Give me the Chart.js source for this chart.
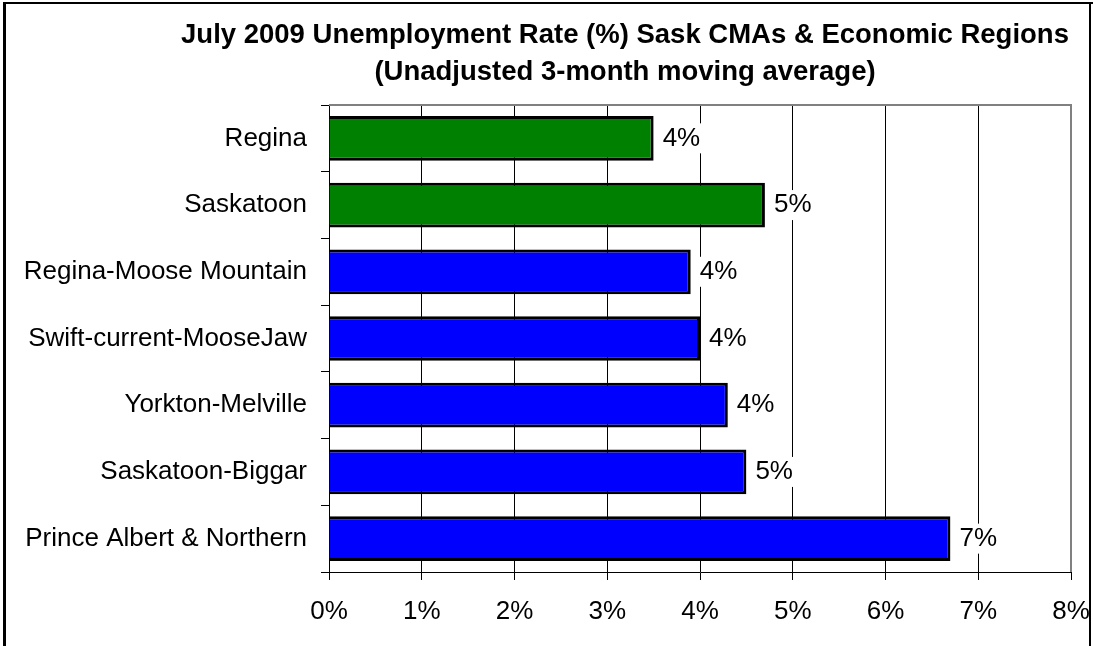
<!DOCTYPE html>
<html>
<head>
<meta charset="utf-8">
<script src="https://cdn.jsdelivr.net/npm/chart.js@4.4.0/dist/chart.umd.min.js"></script>
<style>
  body { margin: 0; background: #fff; }
  #graph { display: block; }
</style>
</head>
<body>
<canvas id="graph" width="1093" height="646"></canvas>
<script>
// donnees du graphique
const categories = [
    "Regina",
    "Saskatoon",
    "Regina-Moose Mountain",
    "Swift-current-MooseJaw",
    "Yorkton-Melville",
    "Saskatoon-Biggar",
    "Prince Albert & Northern"
];
const rates = [3.5, 4.7, 3.9, 4.0, 4.3, 4.5, 6.7];
const barColours = ["#008000", "#008000", "#0000ff", "#0000ff", "#0000ff", "#0000ff", "#0000ff"];
const titleLines = [
    "July 2009 Unemployment Rate (%) Sask CMAs & Economic Regions",
    "(Unadjusted 3-month moving average)"
];
const xMin = 0, xMax = 8, xStep = 1;

const FONT = "'Liberation Sans', Arial, sans-serif";

// fond blanc + cadre noir
const cadre = {
    id: "cadre",
    beforeDraw(chart) {
        const c = chart.ctx;
        c.save();
        c.fillStyle = "#fff";
        c.fillRect(0, 0, chart.width, chart.height);
        c.restore();
    },
    afterDraw(chart) {
        const c = chart.ctx;
        const a = chart.chartArea;
        c.save();
        // bordure grise du haut / droite de la zone de tracé
        c.strokeStyle = "#808080";
        c.lineWidth = 2;
        c.beginPath();
        c.moveTo(a.left, a.top);
        c.lineTo(a.right, a.top);
        c.lineTo(a.right, a.bottom);
        c.stroke();
        c.fillStyle = "#000";
        c.fillRect(3, 2, 3, chart.height);
        c.fillRect(3, 2, chart.width - 3, 2);
        c.fillRect(1089, 2, 2, chart.height);
        c.restore();
    }
};

// titre sur deux lignes
const titre = {
    id: "titre",
    afterDraw(chart) {
        const c = chart.ctx;
        c.save();
        c.font = "bold 27.5px " + FONT;
        c.fillStyle = "#000";
        c.textAlign = "center";
        c.textBaseline = "middle";
        c.fillText(titleLines[0], 625, 35);
        c.fillText(titleLines[1], 625, 72);
        c.restore();
    }
};

// étiquettes de valeur avec fond blanc
const etiquettes = {
    id: "etiquettes",
    afterDatasetsDraw(chart) {
        const c = chart.ctx;
        const meta = chart.getDatasetMeta(0);
        c.save();
        c.font = "26px " + FONT;
        c.textBaseline = "middle";
        meta.data.forEach((bar, i) => {
            const txt = Math.round(rates[i]) + "%";
            const w = c.measureText(txt).width;
            const x = bar.x + 9;
            c.fillStyle = "#fff";
            c.fillRect(x - 2, bar.y - 15, w + 4, 30);
            c.fillStyle = "#000";
            c.fillText(txt, x, bar.y);
        });
        c.restore();
    }
};

const ctx = document.getElementById("graph").getContext("2d");
new Chart(ctx, {
    type: "bar",
    data: {
        labels: categories,
        datasets: [{
            data: rates,
            backgroundColor: barColours,
            borderColor: "#000",
            borderWidth: 3,
            categoryPercentage: 1,
            barPercentage: 0.67
        }]
    },
    options: {
        indexAxis: "y",
        responsive: false,
        animation: false,
        devicePixelRatio: 1,
        layout: { padding: { top: 105, right: 22, left: 0, bottom: 0 } },
        plugins: {
            legend: { display: false },
            tooltip: { enabled: false },
            title: { display: false }
        },
        scales: {
            x: {
                min: xMin,
                max: xMax,
                afterFit: s => { s.height = 74; s.paddingRight = 0; s.paddingLeft = 0; },
                ticks: {
                    stepSize: xStep,
                    color: "#000",
                    font: { family: FONT, size: 26 },
                    padding: 16,
                    callback: v => v + "%"
                },
                grid: {
                    color: c => c.tick && c.tick.value === xMax ? "#808080" : "#000",
                    tickColor: "#000",
                    tickLength: 8,
                    lineWidth: 1
                },
                border: { color: "#000", width: 1 }
            },
            y: {
                afterFit: s => { s.width = 329; s.paddingTop = 0; s.paddingBottom = 0; },
                ticks: {
                    color: "#000",
                    font: { family: FONT, size: 26 },
                    padding: 14
                },
                grid: {
                    drawOnChartArea: false,
                    offset: true,
                    color: "#000",
                    tickLength: 8
                },
                border: { color: "#000", width: 1 }
            }
        }
    },
    plugins: [cadre, titre, etiquettes]
});
</script>
</body>
</html>
